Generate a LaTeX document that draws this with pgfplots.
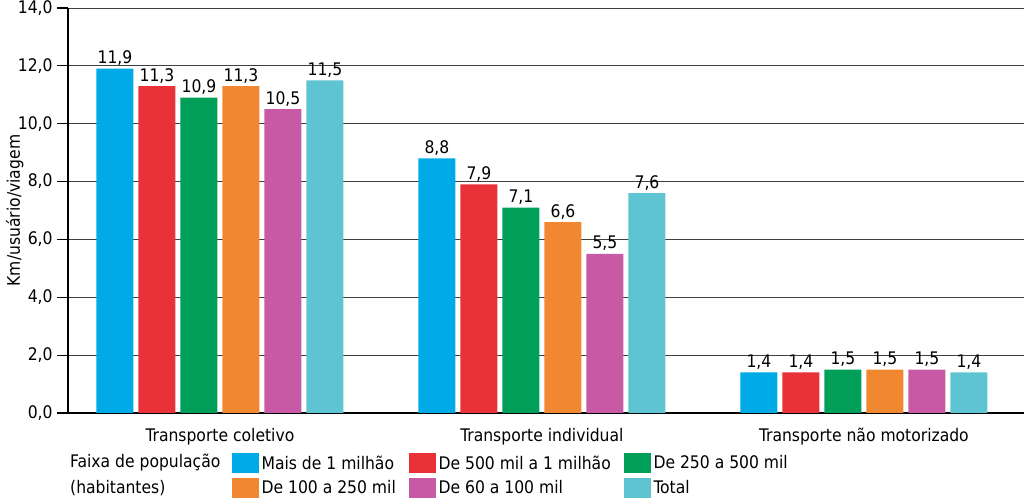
\documentclass[border=0pt]{standalone}
\usepackage{fontspec}
\setmainfont{DejaVu Sans Condensed}
\usepackage{pgfplots}
\pgfplotsset{compat=1.18}
\usetikzlibrary{calc}
\definecolor{c1}{RGB}{0,170,230}
\definecolor{c2}{RGB}{232,50,55}
\definecolor{c3}{RGB}{0,160,90}
\definecolor{c4}{RGB}{242,135,50}
\definecolor{c5}{RGB}{200,90,165}
\definecolor{c6}{RGB}{95,196,210}
\begin{document}
\begin{tikzpicture}[font=\fontsize{13pt}{15pt}\selectfont]
\begin{axis}[
  name=ax,
  scale only axis, width=717pt, height=303.75pt,
  xmin=-0.472, xmax=2.497, ymin=0, ymax=14,
  ybar=3.75pt, bar width=27.75pt,
  axis x line*=bottom, axis y line*=left,
  axis line style={line width=0.9pt},
  xtick={0,1,2},
  xticklabels={Transporte coletivo, Transporte individual, Transporte não motorizado},
  x tick style={draw=none},
  ytick={0,2,...,14},
  y tick style={black, line width=0.8pt},
  tick align=outside, major tick length=8pt,
  ymajorgrids, grid style={black!75, line width=0.6pt},
  /pgf/number format/assume math mode=true,
  /pgf/number format/fixed, /pgf/number format/fixed zerofill,
  /pgf/number format/precision=1, /pgf/number format/use comma,
  ylabel={Km/usuário/viagem},
  ylabel style={yshift=-11pt},
  nodes near coords,
  every node near coord/.append style={text=black, inner sep=2pt},
  legend columns=3, legend cell align=left,
  legend style={draw=none, fill=none, at={(rel axis cs:0.1715,-0.098)}, anchor=north west,
    /tikz/every even column/.append style={column sep=8pt},
    row sep=3pt, inner sep=0pt, nodes={inner sep=2pt}},
  legend image code/.code={\fill[#1,draw=none] (0pt,-7.5pt) rectangle (20pt,7.5pt);},
  clip=false,
]
\addplot[fill=c1, draw=none] coordinates {(0,11.9) (1,8.8) (2,1.4)};
\addplot[fill=c2, draw=none] coordinates {(0,11.3) (1,7.9) (2,1.4)};
\addplot[fill=c3, draw=none] coordinates {(0,10.9) (1,7.1) (2,1.5)};
\addplot[fill=c4, draw=none] coordinates {(0,11.3) (1,6.6) (2,1.5)};
\addplot[fill=c5, draw=none] coordinates {(0,10.5) (1,5.5) (2,1.5)};
\addplot[fill=c6, draw=none] coordinates {(0,11.5) (1,7.6) (2,1.4)};
\legend{Mais de 1 milhão, De 500 mil a 1 milhão, De 250 a 500 mil, De 100 a 250 mil, De 60 a 100 mil, Total}
\node[anchor=north west, align=left, inner sep=0pt, font=\fontsize{13pt}{19.5pt}\selectfont] at (rel axis cs:0.002,-0.1) {Faixa de população\\(habitantes)};
\end{axis}
\pgfresetboundingbox
\path ($(ax.south west)+(-51pt,-64.5pt)$) rectangle ($(ax.north east)+(0pt,6pt)$);
\end{tikzpicture}
\end{document}
